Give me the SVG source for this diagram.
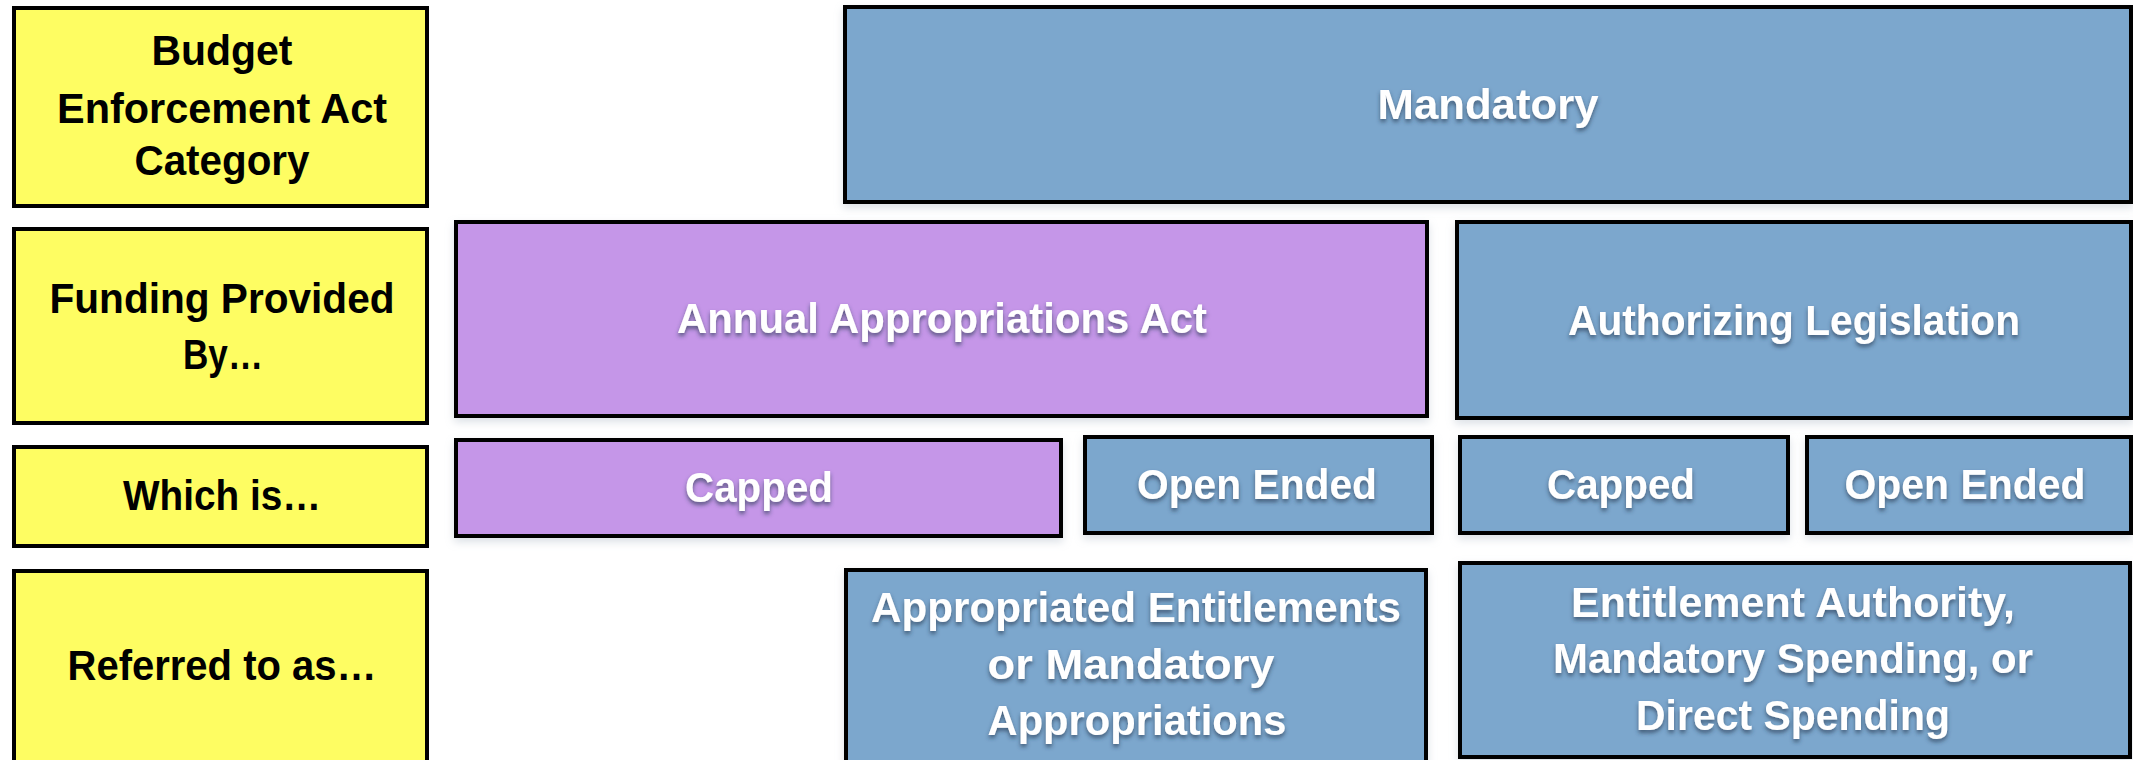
<svg xmlns="http://www.w3.org/2000/svg" width="2133" height="760" viewBox="0 0 2133 760">
<defs>
<filter id="ts" x="-10%" y="-30%" width="120%" height="170%">
<feDropShadow dx="0" dy="3" stdDeviation="2" flood-color="#2c3e55" flood-opacity="0.7"/>
</filter>
<filter id="bs" x="-5%" y="-10%" width="110%" height="125%">
<feDropShadow dx="0" dy="4" stdDeviation="4" flood-color="#9aa8b8" flood-opacity="0.35"/>
</filter>
</defs>
<style>
rect { stroke: #000; stroke-width: 4; }
.y { fill: #FEFD62; }
.b { fill: #7BA7CD; filter: url(#bs); }
.p { fill: #C596E8; filter: url(#bs); }
text { font-family: "Liberation Sans", Arial, sans-serif; font-weight: bold; font-size: 42px; text-anchor: middle; }
.dk { fill: #000; }
.wt { fill: #fff; filter: url(#ts); }
</style>
<rect width="2133" height="760" fill="#fff" style="stroke:none"/>
<g id="cat">
<rect class="y" x="14" y="8" width="413" height="198"/>
<text class="dk" x="222" y="65" textLength="141" lengthAdjust="spacingAndGlyphs">Budget</text>
<text class="dk" x="222" y="123" textLength="330" lengthAdjust="spacingAndGlyphs">Enforcement Act</text>
<text class="dk" x="222" y="175" textLength="175" lengthAdjust="spacingAndGlyphs">Category</text>
</g>
<g id="funding">
<rect class="y" x="14" y="229" width="413" height="194"/>
<text class="dk" x="222" y="313" textLength="345" lengthAdjust="spacingAndGlyphs">Funding Provided</text>
<text class="dk" x="223" y="369" textLength="80" lengthAdjust="spacingAndGlyphs">By…</text>
</g>
<g id="which">
<rect class="y" x="14" y="447" width="413" height="99"/>
<text class="dk" x="222" y="510" textLength="198" lengthAdjust="spacingAndGlyphs">Which is…</text>
</g>
<g id="referred">
<rect class="y" x="14" y="571" width="413" height="195"/>
<text class="dk" x="222" y="680" textLength="309" lengthAdjust="spacingAndGlyphs">Referred to as…</text>
</g>
<g id="mandatory">
<rect class="b" x="845" y="7" width="1286" height="195"/>
<text class="wt" x="1488" y="119" textLength="221" lengthAdjust="spacingAndGlyphs">Mandatory</text>
</g>
<g id="annual">
<rect class="p" x="456" y="222" width="971" height="194"/>
<text class="wt" x="942" y="333" textLength="530" lengthAdjust="spacingAndGlyphs">Annual Appropriations Act</text>
</g>
<g id="authorizing">
<rect class="b" x="1457" y="222" width="674" height="196"/>
<text class="wt" x="1794" y="335" textLength="452" lengthAdjust="spacingAndGlyphs">Authorizing Legislation</text>
</g>
<g id="capped1">
<rect class="p" x="456" y="440" width="605" height="96"/>
<text class="wt" x="759" y="502" textLength="148" lengthAdjust="spacingAndGlyphs">Capped</text>
</g>
<g id="open1">
<rect class="b" x="1085" y="437" width="347" height="96"/>
<text class="wt" x="1257" y="499" textLength="240" lengthAdjust="spacingAndGlyphs">Open Ended</text>
</g>
<g id="capped2">
<rect class="b" x="1460" y="437" width="328" height="96"/>
<text class="wt" x="1621" y="499" textLength="148" lengthAdjust="spacingAndGlyphs">Capped</text>
</g>
<g id="open2">
<rect class="b" x="1807" y="437" width="324" height="96"/>
<text class="wt" x="1965" y="499" textLength="241" lengthAdjust="spacingAndGlyphs">Open Ended</text>
</g>
<g id="appropriated">
<rect class="b" x="846" y="570" width="580" height="196"/>
<text class="wt" x="1136" y="622" textLength="530" lengthAdjust="spacingAndGlyphs">Appropriated Entitlements</text>
<text class="wt" x="1131" y="679" textLength="287" lengthAdjust="spacingAndGlyphs">or Mandatory</text>
<text class="wt" x="1137" y="735" textLength="299" lengthAdjust="spacingAndGlyphs">Appropriations</text>
</g>
<g id="entitlement">
<rect class="b" x="1460" y="563" width="670" height="194"/>
<text class="wt" x="1793" y="617" textLength="444" lengthAdjust="spacingAndGlyphs">Entitlement Authority,</text>
<text class="wt" x="1793" y="673" textLength="480" lengthAdjust="spacingAndGlyphs">Mandatory Spending, or</text>
<text class="wt" x="1793" y="730" textLength="314" lengthAdjust="spacingAndGlyphs">Direct Spending</text>
</g>
<g id="connectors"></g>
</svg>
